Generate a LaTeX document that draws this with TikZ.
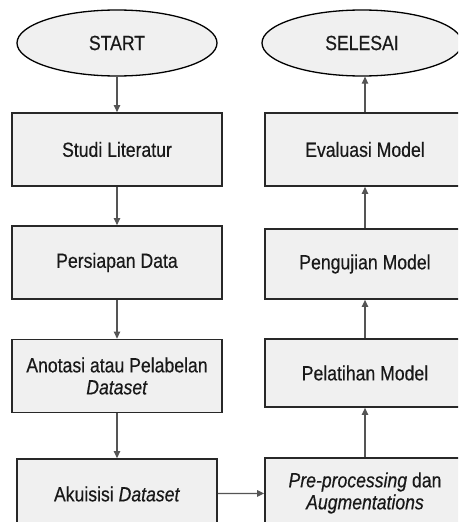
\documentclass[tikz,border=0pt]{standalone}
\usepackage{fontspec}
\setmainfont{Liberation Sans}[FakeStretch=0.86,FakeBold=0.4]
\usepackage{tikz}
\usetikzlibrary{arrows.meta, positioning, shapes.geometric}
\definecolor{boxfill}{RGB}{240,240,240}
\definecolor{boxline}{RGB}{40,40,40}
\definecolor{arrowline}{RGB}{85,85,85}

\begin{document}
\begin{tikzpicture}[
    x=1pt,y=-1pt,
    term/.style={draw=black,ellipse,fill=boxfill,line width=1.3pt,
      minimum width=200pt,minimum height=66pt,inner sep=0pt,
      font=\fontsize{20.5}{22}\selectfont,text=black!90},
    proc/.style={draw=boxline,fill=boxfill,line width=1.8pt,
      minimum height=73pt,inner sep=2pt,align=center,
      font=\fontsize{20.5}{22}\selectfont,text=black!90},
    arrow/.style={-{Triangle[length=7pt,width=6.5pt]},line width=1.2pt,arrowline},
    >=Stealth
  ]
  \useasboundingbox (0,0) rectangle (458,522);
  \clip (0,0) rectangle (458,522);
  \fill[white] (0,0) rectangle (458,522);

  % left column
  \node[term] (start) at (117,43) {START};
  \node[proc,minimum width=210pt] (studi) at (117,149.5) {Studi Literatur};
  \node[proc,minimum width=210pt] (persiapan) at (117,262.5) {Persiapan Data};
  \node[proc,minimum width=210pt] (anotasi) at (117,376) {Anotasi atau Pelabelan\\\textit{Dataset}};
  \node[proc,minimum width=200pt,minimum height=70pt] (akuisisi) at (117,494) {Akuisisi \textit{Dataset}};

  \draw[arrow] (start) -- (studi);
  \draw[arrow] (studi) -- (persiapan);
  \draw[arrow] (persiapan) -- (anotasi);
  \draw[arrow] (anotasi) -- (akuisisi);

  % right column
  \node[term] (selesai) at (362,43) {SELESAI};
  \node[proc,minimum width=200pt] (evaluasi) at (365,149.5) {Evaluasi Model};
  \node[proc,minimum width=200pt,minimum height=70pt] (pengujian) at (365,264) {Pengujian Model};
  \node[proc,minimum width=200pt,minimum height=68pt] (pelatihan) at (365,373) {Pelatihan Model};
  \node[proc,minimum width=200pt,minimum height=70pt] (preproc) at (365,493) {\textit{Pre-processing} dan\\\textit{Augmentations}};

  \draw[arrow] (akuisisi) -- (preproc);
  \draw[arrow] (preproc) -- (pelatihan);
  \draw[arrow] (pelatihan) -- (pengujian);
  \draw[arrow] (pengujian) -- (evaluasi);
  \draw[arrow] (evaluasi.north) -- (evaluasi.north |- selesai.south);
\end{tikzpicture}
\end{document}
